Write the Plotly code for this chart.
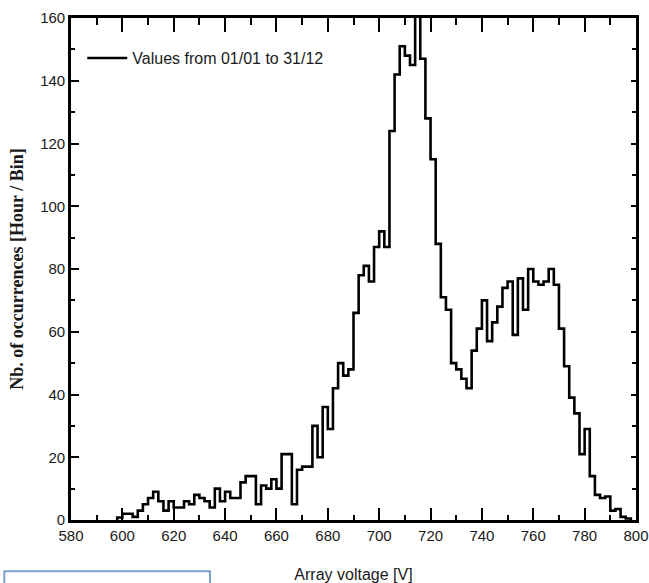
import plotly.graph_objects as go

# Histogram bins: left edges (V), 2 V wide
bin_left = list(range(598, 798, 2))
counts = [
    0.8, 2, 2, 1, 3, 5, 7, 9, 6, 3,          # 598-616
    6, 4, 4, 6, 5, 8, 7, 6, 4, 10,          # 618-636
    6, 9, 7, 7, 12, 14, 14, 5, 11, 10,      # 638-656
    13, 10, 21, 21, 5, 16, 17, 17, 30, 20,  # 658-676
    36, 29, 42, 50, 46, 48, 66, 78, 81, 76, # 678-696
    87, 92, 87, 124, 142, 151, 148, 145, 162, 147,  # 698-716
    128, 115, 88, 71, 67, 50, 48, 45, 42, 54,       # 718-736
    61, 70, 57, 63, 68, 74, 76, 59, 77, 67,         # 738-756
    80, 76, 75, 76, 80, 75, 61, 49, 39, 34,         # 758-776
    21, 29, 14, 8, 7, 7.5, 3, 3.5, 1, 0.5,          # 778-796
]
bin_width = 2
x_ticks = list(range(580, 801, 20))
y_ticks = list(range(0, 161, 20))
x_range = [580, 800]
y_range = [0, 160]
series_name = "Values from 01/01 to 31/12"

edges = bin_left + [bin_left[-1] + bin_width]
xs = [edges[0]] + edges
ys = [0] + counts + [0]

SANS = "Liberation Sans, Arial, sans-serif"
SERIF = "Liberation Serif, Times New Roman, serif"

fig = go.Figure()
fig.add_trace(go.Scatter(
    x=xs, y=ys, mode="lines", line_shape="hv",
    line=dict(color="black", width=2.6),
    name=series_name, showlegend=True,
))
# invisible trace to carry the mirrored top/right axes
fig.add_trace(go.Scatter(x=x_range, y=y_range, xaxis="x2", yaxis="y2",
                         mode="markers", marker=dict(opacity=0), showlegend=False, hoverinfo="skip"))

tickfont = dict(family=SANS, size=15, color="#1a1a1a")
common = dict(ticks="inside", tickwidth=1.5, tickcolor="black", showline=True, linewidth=2.6,
              linecolor="black", showgrid=False, zeroline=False, automargin=False)

fig.update_layout(
    width=649, height=583,
    margin=dict(l=71, r=13, t=18, b=63, autoexpand=False),
    paper_bgcolor="white", plot_bgcolor="white",
    showlegend=True,
    legend=dict(x=0.02, y=0.92, xanchor="left", yanchor="middle",
                bgcolor="rgba(0,0,0,0)", borderwidth=0,
                font=dict(family=SANS, size=16, color="#1a1a1a"),
                itemwidth=40),
    xaxis=dict(
        range=x_range, tickvals=x_ticks, ticklen=12, tickfont=tickfont, **common,
        minor=dict(dtick=10, ticks="inside", ticklen=5, tickwidth=1.5, tickcolor="black", showgrid=False),
        title=dict(text="Array voltage [V]", font=dict(family=SANS, size=16, color="#1a1a1a"), standoff=36),
    ),
    yaxis=dict(
        range=y_range, tickvals=y_ticks, ticklen=8, tickfont=tickfont, **common,
        minor=dict(dtick=10, ticks="inside", ticklen=4, tickwidth=1.5, tickcolor="black", showgrid=False),
        title=dict(text="<b>Nb. of occurrences [Hour / Bin]</b>", font=dict(family=SERIF, size=18, color="#1a1a1a"), standoff=12),
    ),
    xaxis2=dict(
        range=x_range, tickvals=x_ticks, ticklen=14, showticklabels=False, overlaying="x",
        side="top", anchor="y", **common,
        minor=dict(dtick=10, ticks="inside", ticklen=7, tickwidth=1.5, tickcolor="black", showgrid=False),
    ),
    yaxis2=dict(
        range=y_range, tickvals=y_ticks, ticklen=5, showticklabels=False, overlaying="y",
        side="right", anchor="x", **common,
        minor=dict(dtick=10, ticks="inside", ticklen=4, tickwidth=1.5, tickcolor="black", showgrid=False),
    ),
)

# blue box artifact at bottom-left of the original screenshot
fig.add_shape(type="rect", xref="paper", yref="paper",
              x0=-0.118, x1=0.246, y0=-0.14, y1=-0.102,
              line=dict(color="#7d9fd0", width=2), fillcolor="white", layer="above")

fig.write_html("out.html")
